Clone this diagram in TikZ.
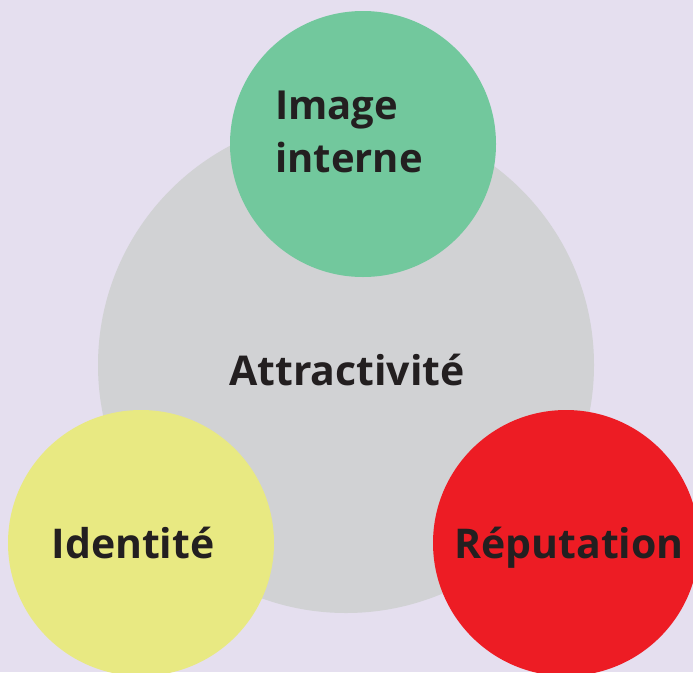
\documentclass[tikz,border=0pt]{standalone}
\usepackage{fontspec}
\setmainfont{Open Sans}
\definecolor{bgc}{HTML}{E5DFEF}
\definecolor{greyc}{HTML}{D1D2D4}
\definecolor{greenc}{HTML}{72C89D}
\definecolor{yellowc}{HTML}{E8E982}
\definecolor{redc}{HTML}{ED1C24}
\definecolor{txtc}{HTML}{231F20}
\begin{document}
\begin{tikzpicture}[x=1pt,y=-1pt,
  lbl/.style={text=txtc,font=\bfseries\fontsize{41}{50}\selectfont,inner sep=0pt,anchor=base},
  lbls/.style={lbl,font=\bfseries\fontsize{40}{50}\selectfont,anchor=base west}]
\fill[bgc] (0,0) rectangle (693,672);
\useasboundingbox (0,0) rectangle (693,672);
\fill[greyc] (346,365) circle (248);
\fill[greenc] (363,144) circle (133);
\fill[yellowc] (141,543) circle (133);
\fill[redc] (566,543) circle (133);
\node[lbl] (center) at (347,385) {Attractivité};
\node[lbls] (img1) at (275,119) {Image};
\node[lbls] (img2) at (275,172) {interne};
\node[lbl] (ident) at (133,558) {Identité};
\node[lbl] (rep) at (569,558) {Réputation};
\end{tikzpicture}
\end{document}
